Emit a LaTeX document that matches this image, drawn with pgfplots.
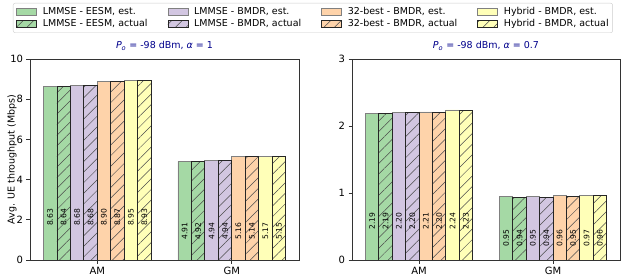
\documentclass[border=0pt]{standalone}
\usepackage{fontspec}
\setmainfont{DejaVu Sans}
\usepackage{pgfplots}
\pgfplotsset{compat=1.18}
\usetikzlibrary{patterns.meta}
\definecolor{cgreen}{RGB}{165,217,165}
\definecolor{cpurple}{RGB}{210,198,225}
\definecolor{corange}{RGB}{254,211,170}
\definecolor{cyellow}{RGB}{255,255,184}
\definecolor{ctitle}{RGB}{0,0,139}
\pgfplotsset{
  est/.style={ybar, bar width=0.1, fill=#1, draw=black!50, line width=0.8bp},
  act/.style={ybar, bar width=0.1, fill=#1, draw=black!85, line width=0.8bp,
    postaction={pattern={Lines[angle=45,distance=7.5bp,line width=0.5bp]}, pattern color=black!70}},
  vlab/.style={only marks, mark=*, mark size=0pt,
    point meta=explicit symbolic, nodes near coords,
    every node near coord/.style={rotate=90, anchor=center, font=\fontsize{7.6bp}{9bp}\selectfont, inner sep=0pt, text=black},
    forget plot},
  common/.style={scale only axis, height=201bp, xmin=-0.5, xmax=1.5, ymin=0,
    xtick={0,1}, xticklabels={AM,GM}, tick align=outside, major tick length=3.5bp,
    xtick pos=left, ytick pos=left,
    axis line style={black!80, line width=0.8bp}, tick style={black!80, line width=0.8bp},
    ticklabel style={font=\fontsize{10bp}{12bp}\selectfont},
    /pgf/number format/assume math mode=true, scaled ticks=false,
    title style={at={(0.5,1)}, anchor=base, yshift=4.5bp, font=\fontsize{9.5bp}{11bp}\selectfont, text=ctitle},
    legend image code/.code={\draw[##1, sharp corners, line width=0.6bp] (0bp,-3.5bp) rectangle (20bp,3.5bp);}
  }
}
\begin{document}
\begin{tikzpicture}
\useasboundingbox (0,0) rectangle (624bp,277bp);
\begin{axis}[common, at={(30bp,17bp)}, anchor=south west, width=269bp,
  ymax=10, ytick={0,2,4,6,8,10},
  title={\textit{P}\textsubscript{\textit{o}} = -98 dBm, \textit{α} = 1},
  ylabel={Avg. UE throughput (Mbps)},
  ylabel style={at={(axis description cs:-0.0669,0.5)}, anchor=center, font=\fontsize{9.5bp}{11bp}\selectfont},
  legend cell align=left,
  legend style={at={(-0.0632,1.2786)}, anchor=north west, legend columns=4,
    draw=black!20, rounded corners=2bp, inner sep=3bp,
    font=\fontsize{9.5bp}{11bp}\selectfont,
    /tikz/every even column/.append style={column sep=19bp},
    /tikz/every odd column/.append style={column sep=5bp},
    row sep=1.5bp, nodes={inner sep=1bp, text height=7bp, text depth=2bp}},
]
\addplot[est=cgreen, bar shift=-0.35] coordinates {(0,8.63) (1,4.91)};
\addlegendentry{LMMSE - EESM, est.}
\addplot[est=cpurple, bar shift=-0.15] coordinates {(0,8.68) (1,4.94)};
\addlegendentry{LMMSE - BMDR, est.}
\addplot[est=corange, bar shift=0.05] coordinates {(0,8.90) (1,5.16)};
\addlegendentry{32-best - BMDR, est.}
\addplot[est=cyellow, bar shift=0.25] coordinates {(0,8.95) (1,5.17)};
\addlegendentry{Hybrid - BMDR, est.}
\addplot[act=cgreen, bar shift=-0.25] coordinates {(0,8.64) (1,4.92)};
\addlegendentry{LMMSE - EESM, actual}
\addplot[act=cpurple, bar shift=-0.05] coordinates {(0,8.68) (1,4.94)};
\addlegendentry{LMMSE - BMDR, actual}
\addplot[act=corange, bar shift=0.15] coordinates {(0,8.87) (1,5.14)};
\addlegendentry{32-best - BMDR, actual}
\addplot[act=cyellow, bar shift=0.35] coordinates {(0,8.93) (1,5.15)};
\addlegendentry{Hybrid - BMDR, actual}
\addplot[vlab] coordinates {
(-0.35,2.12) [8.63] (-0.25,2.12) [8.64] (-0.15,2.12) [8.68] (-0.05,2.12) [8.68]
(0.05,2.12) [8.90] (0.15,2.12) [8.87] (0.25,2.12) [8.95] (0.35,2.12) [8.93]
(0.65,1.45) [4.91] (0.75,1.45) [4.92] (0.85,1.45) [4.94] (0.95,1.45) [4.94]
(1.05,1.45) [5.16] (1.15,1.45) [5.14] (1.25,1.45) [5.17] (1.35,1.45) [5.15]
};
\end{axis}
\begin{axis}[common, at={(352bp,17bp)}, anchor=south west, width=268bp,
  ymax=3, ytick={0,1,2,3},
  title={\textit{P}\textsubscript{\textit{o}} = -98 dBm, \textit{α} = 0.7},
]
\addplot[est=cgreen, bar shift=-0.35] coordinates {(0,2.19) (1,0.95)};
\addplot[est=cpurple, bar shift=-0.15] coordinates {(0,2.20) (1,0.95)};
\addplot[est=corange, bar shift=0.05] coordinates {(0,2.21) (1,0.96)};
\addplot[est=cyellow, bar shift=0.25] coordinates {(0,2.24) (1,0.97)};
\addplot[act=cgreen, bar shift=-0.25] coordinates {(0,2.185) (1,0.94)};
\addplot[act=cpurple, bar shift=-0.05] coordinates {(0,2.20) (1,0.94)};
\addplot[act=corange, bar shift=0.15] coordinates {(0,2.20) (1,0.95)};
\addplot[act=cyellow, bar shift=0.35] coordinates {(0,2.23) (1,0.96)};
\addplot[vlab] coordinates {
(-0.35,0.585) [2.19] (-0.25,0.585) [2.19] (-0.15,0.585) [2.20] (-0.05,0.585) [2.20]
(0.05,0.585) [2.21] (0.15,0.585) [2.20] (0.25,0.585) [2.24] (0.35,0.585) [2.23]
(0.65,0.324) [0.95] (0.75,0.324) [0.94] (0.85,0.324) [0.95] (0.95,0.324) [0.94]
(1.05,0.324) [0.96] (1.15,0.324) [0.95] (1.25,0.324) [0.97] (1.35,0.324) [0.96]
};
\end{axis}
\end{tikzpicture}
\end{document}
